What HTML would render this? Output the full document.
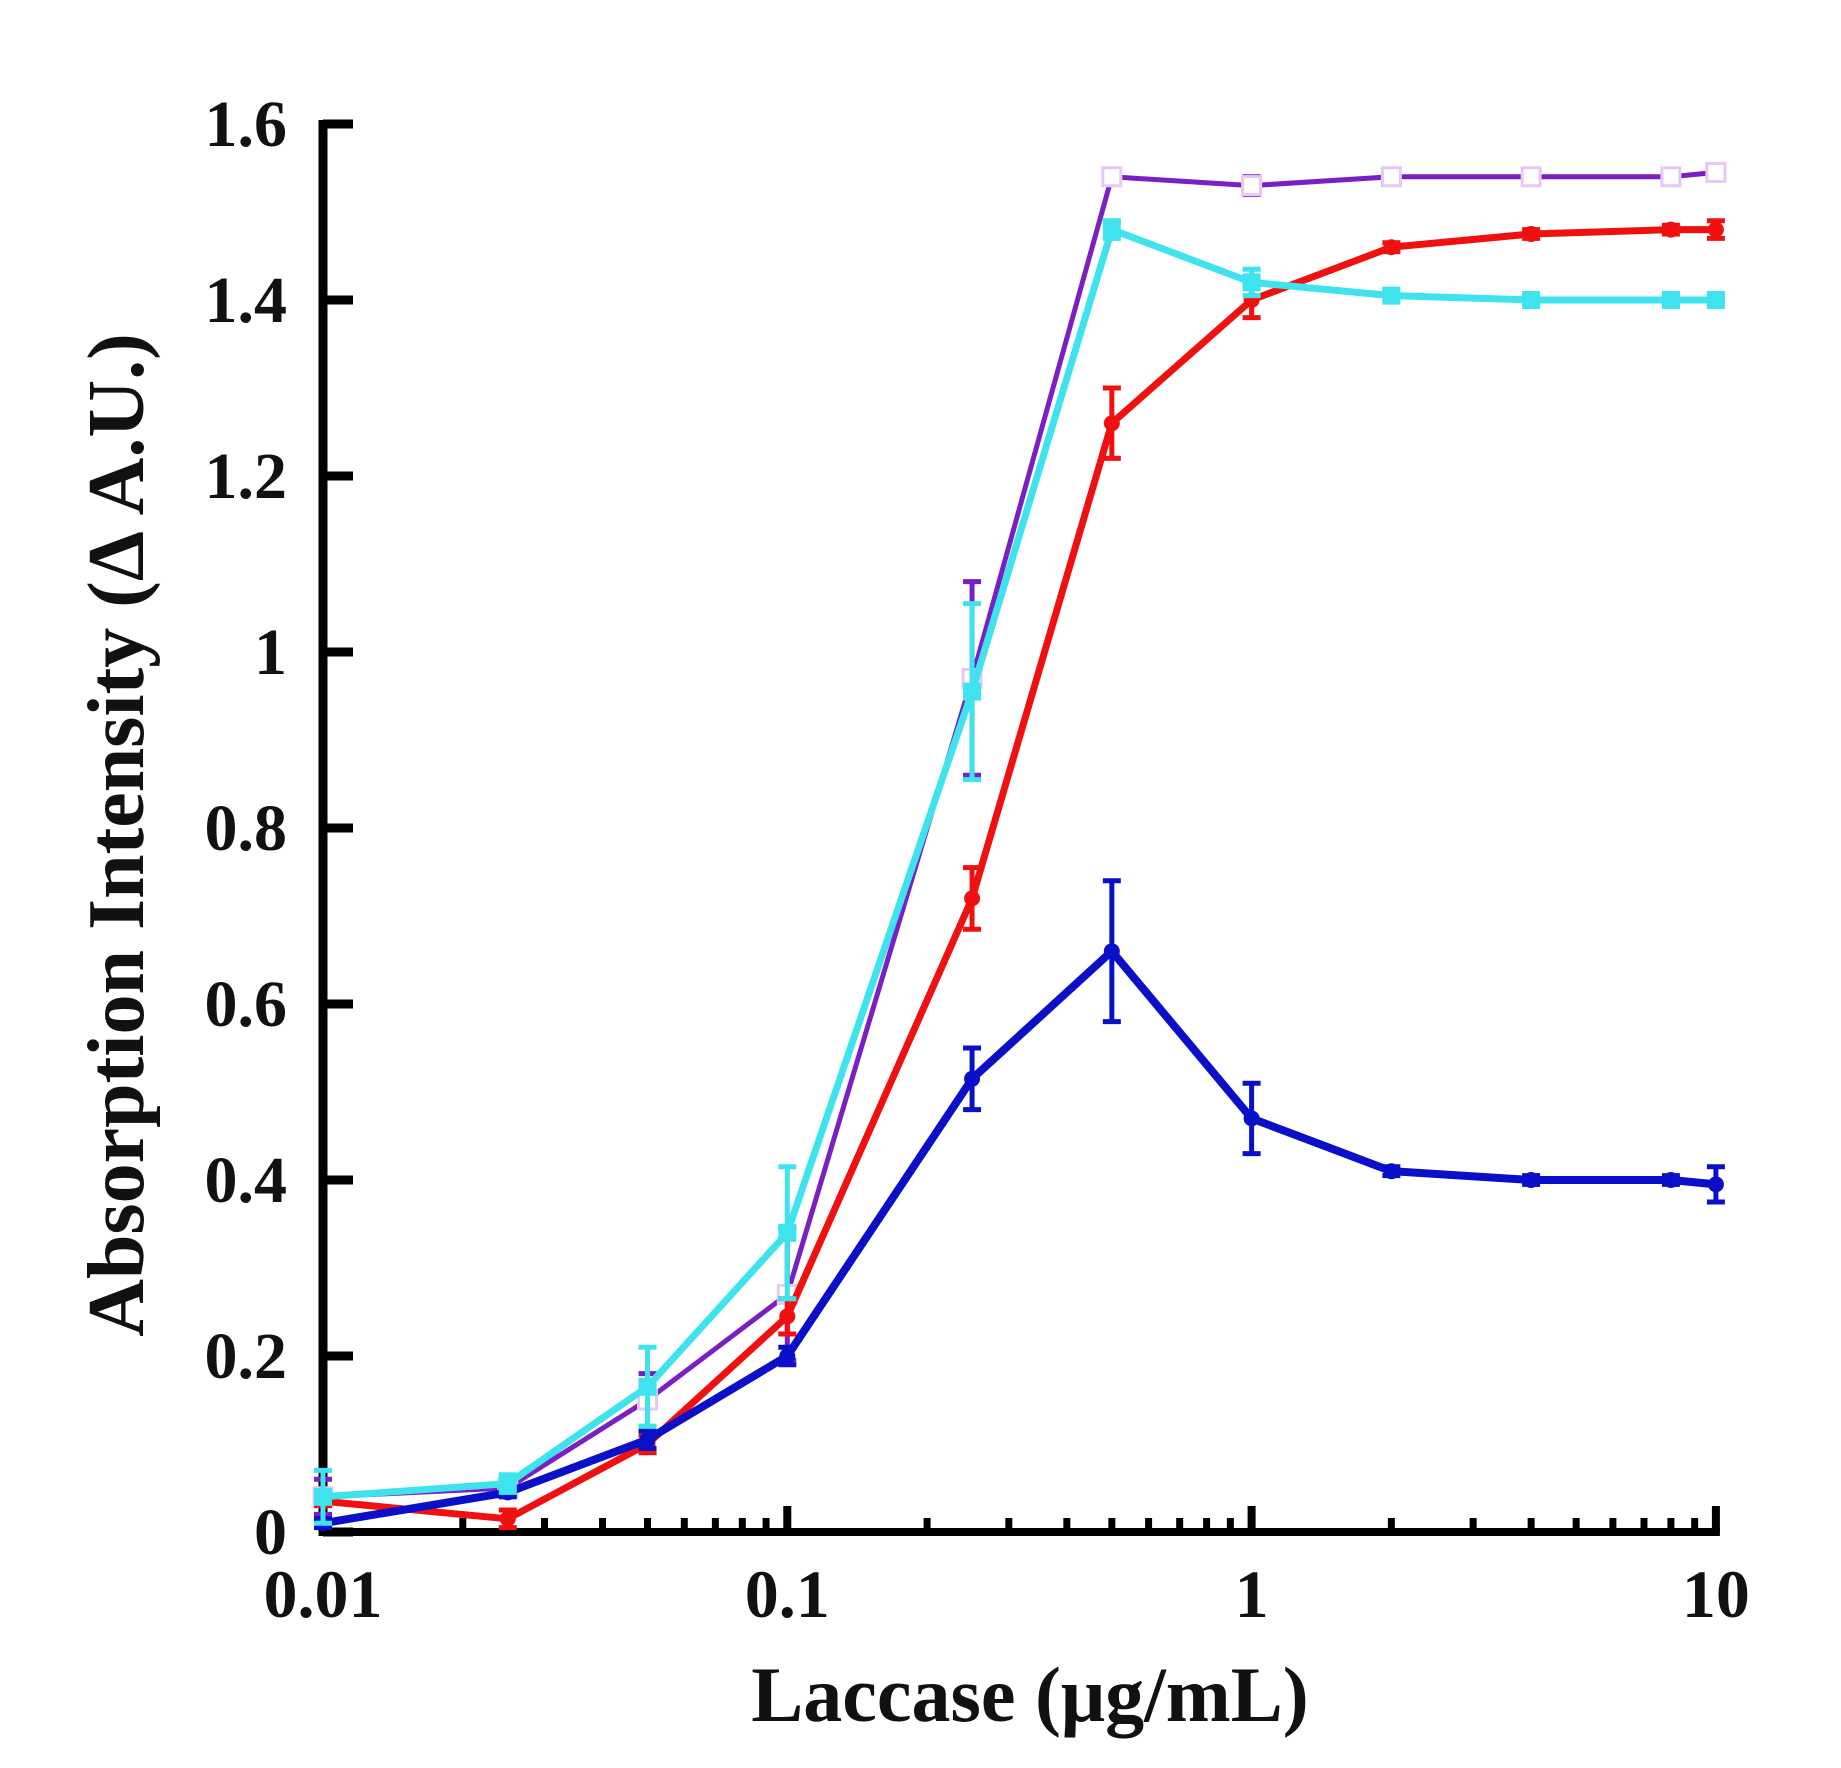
<!DOCTYPE html>
<html><head><meta charset="utf-8"><style>
html,body{margin:0;padding:0;background:#fff;}
svg{display:block;}
text{font-family:"Liberation Serif",serif;font-weight:bold;fill:#111;}
</style></head><body>
<svg id="chart" width="1841" height="1768" viewBox="0 0 1841 1768" xmlns="http://www.w3.org/2000/svg">
<g id="axes"></g>
<g id="series"></g>
<text x="1030" y="1721" font-size="78" text-anchor="middle">Laccase (μg/mL)</text>
<text transform="translate(143,835) rotate(-90)" font-size="80" text-anchor="middle">Absorption Intensity (Δ A.U.)</text>
</svg>
<script>
const xValues=[0.01,0.025,0.05,0.1,0.25,0.5,1,2,4,8,10];
const purpleVals=[0.04,0.05,0.15,0.27,0.97,1.54,1.53,1.54,1.54,1.54,1.545];
const purpleErr=[0.02,0.01,0.03,0.075,0.11,0.005,0.01,0.005,0.005,0.005,0.005];
const cyanVals=[0.04,0.055,0.165,0.34,0.955,1.48,1.42,1.405,1.40,1.40,1.40];
const cyanErr=[0.03,0.01,0.045,0.075,0.1,0.01,0.015,0.005,0.005,0.005,0.005];
const redVals=[0.035,0.015,0.10,0.245,0.72,1.26,1.40,1.46,1.475,1.48,1.48];
const redErr=[0.005,0.01,0.01,0.02,0.035,0.04,0.02,0.005,0.005,0.005,0.01];
const blueVals=[0.01,0.045,0.105,0.20,0.515,0.66,0.47,0.41,0.40,0.40,0.395];
const blueErr=[0.005,0.005,0.01,0.01,0.035,0.08,0.04,0.005,0.005,0.005,0.02];
const yTicks=[0,0.2,0.4,0.6,0.8,1,1.2,1.4,1.6];
const yTickLabels=["0","0.2","0.4","0.6","0.8","1","1.2","1.4","1.6"];
const xTicks=[0.01,0.1,1,10];
const xTickLabels=["0.01","0.1","1","10"];

const NS="http://www.w3.org/2000/svg";
const X0=323,DEC=464.3,Y0=1532,YU=880;
function xs(v){return X0+DEC*Math.log10(v/0.01);}
function ys(v){return Y0-YU*v;}
function mk(tag,attrs,parent){const e=document.createElementNS(NS,tag);for(const k in attrs)e.setAttribute(k,attrs[k]);parent.appendChild(e);return e;}
const axes=document.getElementById('axes');
const series=document.getElementById('series');

let a=mk('line',{x1:X0,y1:120,x2:X0,y2:Y0+4,stroke:'#000','stroke-width':9},axes);


a=mk('line',{x1:X0-4,y1:Y0,x2:xs(10)+4,y2:Y0,stroke:'#000','stroke-width':8},axes);



yTicks.forEach((v,i)=>{
  const t=mk('line',{x1:X0,y1:ys(v),x2:X0+30,y2:ys(v),stroke:'#000','stroke-width':9},axes);
  
  
  const l=mk('text',{x:287,y:ys(v)+22,'font-size':66,'text-anchor':'end'},axes);
  l.textContent=yTickLabels[i];
  
  
});
xTicks.forEach((v,i)=>{
  const t=mk('line',{x1:xs(v),y1:Y0,x2:xs(v),y2:Y0-26,stroke:'#000','stroke-width':8},axes);
  
  
  const l=mk('text',{x:xs(v),y:1617,'font-size':68,'text-anchor':'middle'},axes);
  l.textContent=xTickLabels[i];
  
  
  if(i<xTicks.length-1){
    for(let m=2;m<=9;m++){
      const mt=mk('line',{x1:xs(v*m),y1:Y0,x2:xs(v*m),y2:Y0-14,stroke:'#000','stroke-width':7},axes);
      
      
    }
  }
});

function drawSeries(name,vals,errs,color,width,marker){
  const g=mk('g',{},series);
  
  
  const pts=xValues.map((x,i)=>xs(x).toFixed(1)+','+ys(vals[i]).toFixed(1)).join(' ');
  const pl=mk('polyline',{points:pts,fill:'none',stroke:color,'stroke-width':width,'stroke-linejoin':'round'},g);
  
  
  xValues.forEach((x,i)=>{
    const cx=xs(x),cy=ys(vals[i]),e=errs[i]*YU;
    const eb=mk('path',{d:`M${cx},${cy-e}V${cy+e}M${cx-9},${cy-e}H${cx+9}M${cx-9},${cy+e}H${cx+9}`,stroke:color,'stroke-width':5,fill:'none'},g);
    
    
    let m;
    if(marker==='open') m=mk('rect',{x:cx-9,y:cy-9,width:18,height:18,fill:'#fff',stroke:'#e6c8f5','stroke-width':3},g);
    else if(marker==='square') m=mk('rect',{x:cx-9,y:cy-9,width:18,height:18,fill:color},g);
    else m=mk('circle',{cx:cx,cy:cy,r:8,fill:color},g);
    
    
  });
}
drawSeries('purple',purpleVals,purpleErr,'#7a1fc4',5,'open');
drawSeries('red',redVals,redErr,'#f01010',7,'circle');
drawSeries('blue',blueVals,blueErr,'#0a10c8',8,'circle');
drawSeries('cyan',cyanVals,cyanErr,'#3fe3ee',7,'square');
</script>
</body></html>
